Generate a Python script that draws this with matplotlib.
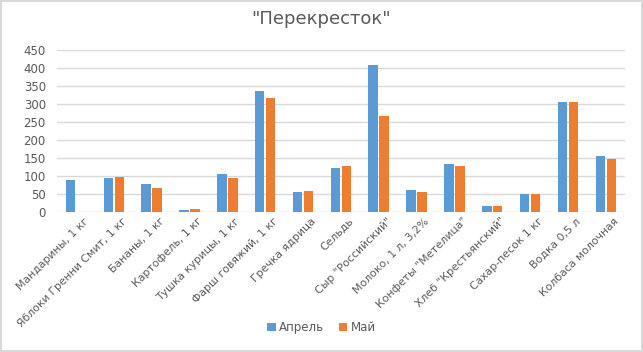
import matplotlib.pyplot as plt
import numpy as np

categories = ['Мандарины, 1 кг', 'Яблоки Гренни Смит, 1 кг', 'Бананы, 1 кг',
              'Картофель, 1 кг', 'Тушка курицы, 1 кг', 'Фарш говяжий, 1 кг',
              'Гречка ядрица', 'Сельдь', 'Сыр "Российский"', 'Молоко, 1 л, 3,2%',
              'Конфеты "Метелица"', 'Хлеб "Крестьянский"', 'Сахар-песок 1 кг',
              'Водка 0,5 л', 'Колбаса молочная']
april = [89, 94, 78, 6, 106, 336, 56, 122, 408, 61, 133, 17, 50, 306, 156]
may = [0, 98, 67, 8, 93, 317, 58, 128, 267, 56, 128, 17, 50, 306, 147]
yticks = list(range(0, 451, 50))

BLUE = '#5B9BD5'
ORANGE = '#ED7D31'
TEXT = '#595959'


def main():
    fig = plt.figure(figsize=(6.43, 3.52), dpi=100)
    fig.patch.set_edgecolor('#D9D9D9')
    fig.patch.set_linewidth(1.5)
    ax = fig.add_axes([0.0886, 0.398, 0.883, 0.46])

    x = np.arange(len(categories))
    w = 0.25
    ax.bar(x - 0.145, april, w, color=BLUE, label='Апрель', zorder=3)
    ax.bar(x + 0.145, may, w, color=ORANGE, label='Май', zorder=3)

    ax.set_xlim(-0.5, len(categories) - 0.5)
    ax.set_ylim(0, 450)
    ax.set_yticks(yticks)
    ax.yaxis.grid(True, color='#D9D9D9', linewidth=1, zorder=0)
    for s in ax.spines.values():
        s.set_visible(False)
    ax.tick_params(axis='both', length=0, colors=TEXT, labelsize=8.5)
    ax.tick_params(axis='y', pad=8)
    ax.tick_params(axis='x', labelsize=7.8, pad=3)
    ax.set_xticks(x + 0.2)
    ax.set_xticklabels(categories, rotation=45, ha='right',
                       rotation_mode='anchor', color=TEXT)

    fig.text(0.5, 0.945, '"Перекресток"', ha='center', va='center',
             fontsize=13, color=TEXT)
    fig.legend(loc='center', bbox_to_anchor=(0.5, 0.07), ncol=2,
               frameon=False, fontsize=8.5, labelcolor=TEXT,
               handlelength=0.7, handleheight=0.7, handletextpad=0.3,
               columnspacing=1.2)

    fig.savefig('out.png', dpi=100, edgecolor=fig.get_edgecolor())


if __name__ == '__main__':
    main()
